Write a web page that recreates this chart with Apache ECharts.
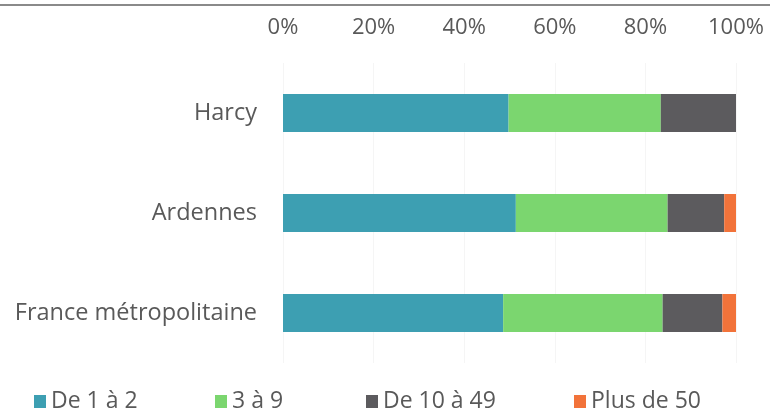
<!DOCTYPE html>
<html>
<head>
<meta charset="utf-8">
<script src="https://cdn.jsdelivr.net/npm/echarts@6/dist/echarts.min.js"></script>
<style>html,body{margin:0;padding:0;background:#fff;}#c{width:770px;height:409px;}</style>
</head>
<body>
<div id="c"></div>
<script>
const categories = ['Harcy', 'Ardennes', 'France métropolitaine'];
const seriesNames = ['De 1 à 2', '3 à 9', 'De 10 à 49', 'Plus de 50'];
const de1a2 = [49.8, 51.4, 48.6];
const de3a9 = [33.6, 33.5, 35.2];
const de10a49 = [16.6, 12.5, 13.2];
const plus50 = [0, 2.6, 3.0];
const tickLabels = ['0%', '20%', '40%', '60%', '80%', '100%'];
const colors = ['#3d9fb2', '#7bd66f', '#5c5b5e', '#f2733a'];
const values = [de1a2, de3a9, de10a49, plus50];
const legendLeft = [29, 210, 361, 569];

const chart = echarts.init(document.getElementById('c'));
const font = '"Open Sans", Lato, sans-serif';
chart.setOption({
  animation: false,
  graphic: [{
    type: 'line', shape: {x1: 0, y1: 5, x2: 770, y2: 5},
    style: {stroke: '#8a8a8a', lineWidth: 2}
  }],
  grid: {left: 283, right: 34, top: 63, bottom: 46},
  legend: seriesNames.map((n, i) => ({
    top: 385, left: legendLeft[i],
    itemWidth: 12, itemHeight: 13, itemGap: 6,
    icon: 'rect',
    textStyle: {color: '#595959', fontSize: 23, fontFamily: font},
    data: [n]
  })),
  xAxis: {
    type: 'value', position: 'top', min: 0, max: 100, interval: 20,
    axisLine: {show: false}, axisTick: {show: false},
    splitLine: {show: true, lineStyle: {color: '#f5f5f5', width: 1}},
    axisLabel: {
      color: '#595959', fontSize: 22, fontFamily: font, margin: 24,
      formatter: function (v) { return tickLabels[Math.round(v / 20)]; }
    }
  },
  yAxis: {
    type: 'category', inverse: true, data: categories,
    axisLine: {show: false}, axisTick: {show: false},
    axisLabel: {color: '#595959', fontSize: 23.5, fontFamily: font, margin: 26}
  },
  series: seriesNames.map((n, i) => ({
    name: n, type: 'bar', stack: 'total', barWidth: '38%',
    itemStyle: {color: colors[i]},
    data: values[i]
  }))
});
</script>
</body>
</html>
